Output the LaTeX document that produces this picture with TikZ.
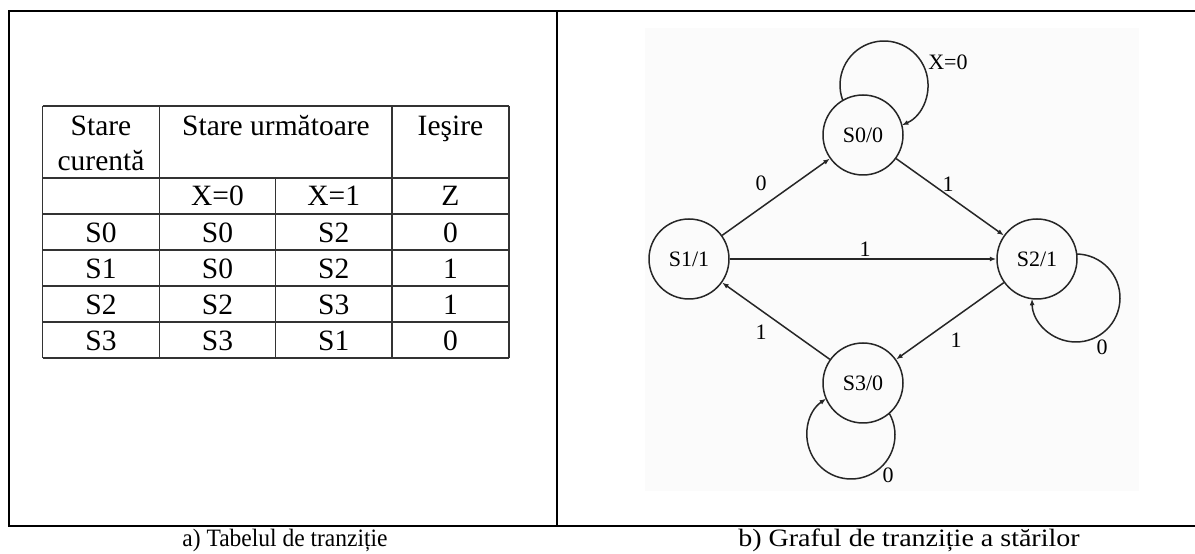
\documentclass[tikz,border=0pt]{standalone}
\usepackage{fontspec}
\setmainfont{Liberation Serif}
\usetikzlibrary{arrows.meta,calc}
\begin{document}
\begin{tikzpicture}[x=1pt,y=1pt,
  frame/.style={line width=2.2pt,black},
  grid/.style={line width=1.6pt,black!80},
  cell/.style={anchor=base,inner sep=0pt,text=black,font=\fontsize{29.5}{32}\selectfont},
  state/.style={circle,draw=black!85,line width=1.5pt,minimum size=80pt,inner sep=0pt,text=black,font=\fontsize{22}{24}\selectfont},
  edge/.style={draw=black!85,line width=1.5pt,-{Latex[length=6.5pt,width=5pt]}},
  lbl/.style={inner sep=0pt,text=black,font=\fontsize{22}{24}\selectfont},
  caption/.style={anchor=base,inner sep=0pt,font=\fontsize{25}{27}\selectfont}]
\useasboundingbox (0,0) rectangle (1195,554);

% panel frame
\draw[frame] (1195,543) -- (9,543) -- (9,28) -- (1195,28);
\draw[frame] (557,543) -- (557,28);

% faint paper tone behind the graph
\fill[black!1.5] (645,63) rectangle (1139,526);

% ---------- transition table ----------
\foreach \y in {448,376,340,304,268,232,196}
  \draw[grid] (42.5,\y) -- (509,\y);
\foreach \x in {42.5,159.5,392,509}
  \draw[grid] (\x,448) -- (\x,196);
\draw[grid] (275.5,376) -- (275.5,196);

\node[cell] (h1a) at (101,418) {Stare};
\node[cell] (h1b) at (101,383) {curentă};
\node[cell] (h2) at (276,418) {Stare următoare};
\node[cell] (h3) at (450.5,418) {Ieşire};
\node[cell] (x0) at (217.5,348) {X=0};
\node[cell] (x1) at (333.75,348) {X=1};
\node[cell] (z) at (450.5,348) {Z};

\node[cell] (r1a) at (101,311) {S0};
\node[cell] (r1b) at (217.5,311) {S0};
\node[cell] (r1c) at (333.75,311) {S2};
\node[cell] (r1d) at (450.5,311) {0};

\node[cell] (r2a) at (101,275) {S1};
\node[cell] (r2b) at (217.5,275) {S0};
\node[cell] (r2c) at (333.75,275) {S2};
\node[cell] (r2d) at (450.5,275) {1};

\node[cell] (r3a) at (101,239) {S2};
\node[cell] (r3b) at (217.5,239) {S2};
\node[cell] (r3c) at (333.75,239) {S3};
\node[cell] (r3d) at (450.5,239) {1};

\node[cell] (r4a) at (101,203) {S3};
\node[cell] (r4b) at (217.5,203) {S3};
\node[cell] (r4c) at (333.75,203) {S1};
\node[cell] (r4d) at (450.5,203) {0};

% ---------- state graph ----------
\node[state] (S0) at (863,419) {S0/0};
\node[state] (S1) at (689,295) {S1/1};
\node[state] (S2) at (1037,295) {S2/1};
\node[state] (S3) at (863,171) {S3/0};

\draw[edge] (S1) -- (S0);
\draw[edge] (S0) -- (S2);
\draw[edge] (S1) -- (S2);
\draw[edge] (S2) -- (S3);
\draw[edge] (S3) -- (S1);

% self loops
\coordinate (c0) at (884,469);
\coordinate (c2) at (1076,256);
\coordinate (c3) at (851,119);
\draw[edge] ($(c0)+(200.5:44)$) arc[start angle=200.5,end angle=-66,radius=44];
\draw[edge] ($(c2)+(89:44)$) arc[start angle=89,end angle=-179,radius=44];
\draw[edge] ($(c3)+(29.6:44)$) arc[start angle=29.6,end angle=-235.6,radius=44];

% transition labels
\node[lbl] (l10) at (761,371) {0};
\node[lbl] (l02) at (948,370) {1};
\node[lbl] (l12) at (865,305) {1};
\node[lbl] (l31) at (761,222) {1};
\node[lbl] (l23) at (956,214) {1};
\node[lbl] (l00) at (948,492) {X=0};
\node[lbl] (l22) at (1102,207) {0};
\node[lbl] (l33) at (888,79) {0};

% captions
\node[caption,xscale=0.94] (capa) at (285,7) {a) Tabelul de tranziție};
\node[caption,xscale=1.12] (capb) at (909,7) {b) Graful de tranziție a stărilor};
\end{tikzpicture}
\end{document}
